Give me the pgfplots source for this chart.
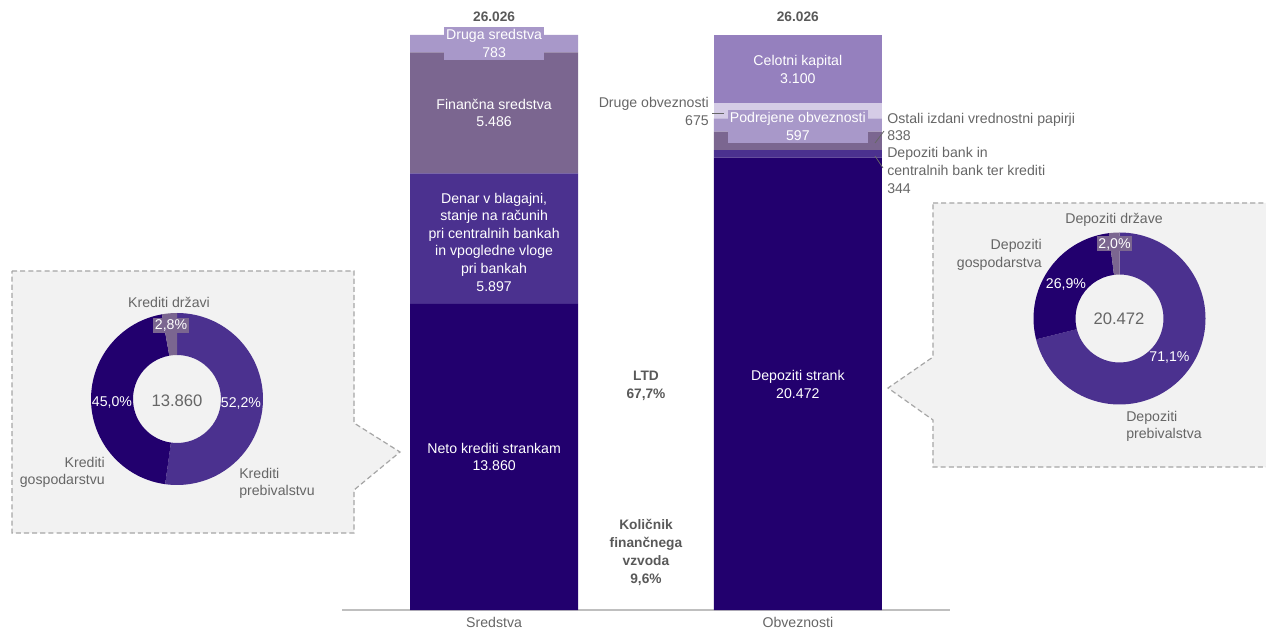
\documentclass[border=0pt]{standalone}
\usepackage{pgfplots}
\pgfplotsset{compat=1.18}
\usepackage{fontspec}
\setmainfont{Liberation Sans}

\definecolor{navy}{HTML}{22006E}
\definecolor{violet}{HTML}{4B318F}
\definecolor{mauve}{HTML}{7B6690}
\definecolor{lilac}{HTML}{A898C9}
\definecolor{pale}{HTML}{D5CCE6}
\definecolor{lavender}{HTML}{9580BE}
\definecolor{txtgray}{HTML}{666666}
\definecolor{boldgray}{HTML}{595959}
\definecolor{boxfill}{HTML}{F2F2F2}
\definecolor{boxline}{HTML}{A6A6A6}

% one donut slice: start angle, end angle, colour
\newcommand{\slice}[3]{%
  \fill[#3] ([shift={(#1:64.5pt)}]axis cs:0,0) arc[start angle=#1, end angle=#2, radius=64.5pt]
    -- ([shift={(#2:33pt)}]axis cs:0,0) arc[start angle=#2, end angle=#1, radius=33pt] -- cycle;}

\begin{document}
\begin{tikzpicture}[
  lbl/.style={font=\fontsize{10.6}{13.2}\selectfont, align=center, inner sep=0pt},
  wlbl/.style={lbl, text=white},
  glbl/.style={lbl, text=txtgray},
  blbl/.style={lbl, text=boldgray, font=\fontsize{10.3}{13.5}\selectfont\bfseries},
  callout/.style={fill=boxfill, draw=boxline, line width=0.9pt, dash pattern=on 3.8pt off 2.3pt}]

% pixel grid: 1 unit = 1 px of the 1266 x 628 reference
\begin{scope}[x=0.75pt, y=0.75pt]
\useasboundingbox (0,0) rectangle (1266,628);
% callout boxes behind the donuts
\path[callout] (12,357) -- (354,357) -- (354,205) -- (400,176) -- (354,138) -- (354,95) -- (12,95) -- cycle;
\path[callout] (933,425) -- (1275,425) -- (1275,161) -- (933,161) -- (933,208) -- (888,240) -- (933,271) -- cycle;
\end{scope}

% shares in percent
\def\kPreb{52.2}\def\kGosp{45.0}\def\kDrz{2.8}
\def\dPreb{71.1}\def\dGosp{26.9}\def\dDrz{2.0}
\pgfmathsetmacro\la{90-3.6*\kPreb}
\pgfmathsetmacro\lb{\la-3.6*\kGosp}
\pgfmathsetmacro\lc{\lb-3.6*\kDrz}
\pgfmathsetmacro\ra{90-3.6*\dPreb}
\pgfmathsetmacro\rb{\ra-3.6*\dGosp}
\pgfmathsetmacro\rc{\rb-3.6*\dDrz}

% loans donut
\begin{axis}[at={(132.75pt,171.75pt)}, anchor=center, scale only axis, width=129pt, height=129pt,
  hide axis, xmin=-1, xmax=1, ymin=-1, ymax=1, clip=false]
\slice{90}{\la}{violet}
\slice{\la}{\lb}{navy}
\slice{\lb}{\lc}{mauve}
\end{axis}

% deposits donut
\begin{axis}[at={(839.625pt,232.125pt)}, anchor=center, scale only axis, width=129pt, height=129pt,
  hide axis, xmin=-1, xmax=1, ymin=-1, ymax=1, clip=false]
\slice{90}{\ra}{violet}
\slice{\ra}{\rb}{navy}
\slice{\rb}{\rc}{mauve}
\end{axis}

% balance sheet bars
\begin{axis}[at={(256.6875pt,13.5pt)}, anchor=south west, scale only axis,
  width=455.6pt, height=431.25pt,
  xmin=-0.5, xmax=1.5, ymin=0, ymax=26026,
  ybar stacked, bar width=126pt,
  axis x line*=bottom, axis y line=none,
  x axis line style={draw=black!25, line width=1.4pt},
  xtick={0,1}, xticklabels={Sredstva,Obveznosti}, ytick=\empty,
  major tick length=0pt,
  xticklabel style={font=\fontsize{10.6}{12}\selectfont, text=txtgray, yshift=-2pt},
  clip=false]
\addplot[fill=navy, draw=none] coordinates {(0,13860) (1,20472)};
\addplot[fill=violet, draw=none] coordinates {(0,5897) (1,344)};
\addplot[fill=mauve, draw=none] coordinates {(0,5486) (1,838)};
\addplot[fill=lilac, draw=none] coordinates {(0,783) (1,597)};
\addplot[fill=pale, draw=none] coordinates {(0,0) (1,675)};
\addplot[fill=lavender, draw=none] coordinates {(0,0) (1,3100)};
% label anchors at the segments
\coordinate (neto) at (axis cs:0,6930);
\coordinate (denar) at (axis cs:0,16650);
\coordinate (fin) at (axis cs:0,22500);
\coordinate (druga) at (axis cs:0,25641);
\coordinate (tot0) at (axis cs:0,26026);
\coordinate (dep) at (axis cs:1,10200);
\coordinate (podr) at (axis cs:1,21884);
\coordinate (kap) at (axis cs:1,24476);
\coordinate (tot1) at (axis cs:1,26026);
\coordinate (ltd) at (axis cs:0.5,10150);
\coordinate (vzvod) at (axis cs:0.5,2600);
\end{axis}

\node[wlbl] at (neto) {Neto krediti strankam\\13.860};
\node[wlbl] at (denar) {Denar v blagajni,\\stanje na računih\\pri centralnih bankah\\in vpogledne vloge\\pri bankah\\5.897};
\node[wlbl] at (fin) {Finančna sredstva\\5.486};
\node[wlbl, fill=lilac, minimum width=75pt, minimum height=24.75pt] at (druga) {Druga sredstva\\783};
\node[wlbl] at (dep) {Depoziti strank\\20.472};
\node[wlbl, fill=lilac, minimum width=105pt, minimum height=24.75pt] at (podr) {Podrejene obveznosti\\597};
\node[wlbl] at (kap) {Celotni kapital\\3.100};
\node[blbl, yshift=13.5pt] at (tot0) {26.026};
\node[blbl, yshift=13.5pt] at (tot1) {26.026};
\node[blbl] at (ltd) {LTD\\67,7\%};
\node[blbl] at (vzvod) {Količnik\\finančnega\\vzvoda\\9,6\%};

\begin{scope}[x=0.75pt, y=0.75pt]
% small liabilities with leader lines
\draw[txtgray, line width=0.6pt] (712,515) -- (724,515);
\node[glbl, anchor=east, align=right] at (709,516.5) {Druge obveznosti\\675};
\draw[txtgray, line width=0.6pt] (875,485) -- (884,497);
\node[glbl, anchor=west, align=left] at (887,501) {Ostali izdani vrednostni papirji\\838};
\draw[txtgray, line width=0.6pt] (875,472) -- (883,460);
\node[glbl, anchor=west, align=left] at (887,457.5) {Depoziti bank in\\centralnih bank ter krediti\\344};

% loans donut labels
\node[glbl] at (169,326) {Krediti državi};
\node[wlbl, fill=mauve, minimum width=27pt, minimum height=11.25pt] at (171,302.5) {2,8\%};
\node[wlbl] at (112,226) {45,0\%};
\node[wlbl] at (241,225) {52,2\%};
\node[glbl, font=\fontsize{12.5}{14}\selectfont] at (177,227) {13.860};
\node[glbl, anchor=east, align=right] at (105,155.5) {Krediti\\gospodarstvu};
\node[glbl, anchor=west, align=left] at (239,144.5) {Krediti\\prebivalstvu};

% deposits donut labels
\node[glbl] at (1114,408) {Depoziti države};
\node[wlbl, fill=mauve, minimum width=26pt, minimum height=11.25pt] at (1114.5,384) {2,0\%};
\node[glbl, anchor=east, align=right] at (1042,373) {Depoziti\\gospodarstva};
\node[wlbl] at (1066,344) {26,9\%};
\node[wlbl] at (1169.5,270) {71,1\%};
\node[glbl, font=\fontsize{12.5}{14}\selectfont] at (1119,309) {20.472};
\node[glbl, anchor=west, align=left] at (1126,201.5) {Depoziti\\prebivalstva};
\end{scope}
\end{tikzpicture}
\end{document}
